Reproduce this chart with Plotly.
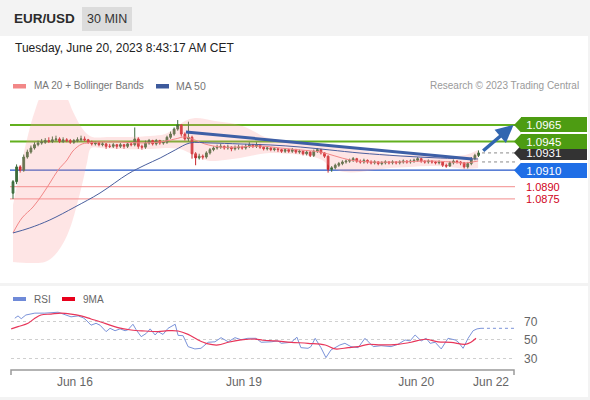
import plotly.graph_objects as go

# ---------------- data ----------------
candle_idx = list(range(131))
open_ = [1.0882, 1.0896, 1.0914, 1.0910, 1.0926, 1.0932, 1.0937, 1.0941, 1.0943, 1.0944,
         1.0946, 1.0945, 1.0947, 1.0948, 1.0945, 1.0947, 1.0946, 1.0944, 1.0946, 1.0947,
         1.0948, 1.0947, 1.0944, 1.0942, 1.0943, 1.0941, 1.0942, 1.0939, 1.0939, 1.0941,
         1.0939, 1.0941, 1.0939, 1.0942, 1.0941, 1.0948, 1.0939, 1.0938, 1.0943, 1.0946,
         1.0942, 1.0946, 1.0943, 1.0944, 1.0950, 1.0954, 1.0960, 1.0965, 1.0954, 1.0948,
         1.0950, 1.0930, 1.0925, 1.0927, 1.0926, 1.0931, 1.0935, 1.0937, 1.0938, 1.0939,
         1.0937, 1.0938, 1.0936, 1.0937, 1.0938, 1.0937, 1.0939, 1.0941, 1.0939, 1.0941,
         1.0938, 1.0936, 1.0937, 1.0935, 1.0936, 1.0935, 1.0933, 1.0935, 1.0933, 1.0935,
         1.0932, 1.0933, 1.0930, 1.0932, 1.0928, 1.0933, 1.0935, 1.0931, 1.0927, 1.0911,
         1.0913, 1.0916, 1.0918, 1.0920, 1.0921, 1.0922, 1.0924, 1.0921, 1.0920, 1.0922,
         1.0920, 1.0919, 1.0920, 1.0918, 1.0919, 1.0920, 1.0919, 1.0920, 1.0919, 1.0920,
         1.0921, 1.0920, 1.0921, 1.0922, 1.0924, 1.0921, 1.0920, 1.0921, 1.0920, 1.0919,
         1.0920, 1.0916, 1.0915, 1.0919, 1.0921, 1.0920, 1.0919, 1.0914, 1.0918, 1.0924,
         1.0928]
high = [1.0898, 1.0917, 1.0916, 1.0929, 1.0935, 1.0940, 1.0944, 1.0946, 1.0948, 1.0949,
        1.0950, 1.0951, 1.0952, 1.0950, 1.0950, 1.0949, 1.0948, 1.0948, 1.0950, 1.0952,
        1.0951, 1.0948, 1.0946, 1.0945, 1.0945, 1.0944, 1.0943, 1.0942, 1.0943, 1.0942,
        1.0943, 1.0942, 1.0944, 1.0944, 1.0962, 1.0950, 1.0941, 1.0946, 1.0948, 1.0947,
        1.0948, 1.0947, 1.0946, 1.0952, 1.0957, 1.0962, 1.0971, 1.0966, 1.0956, 1.0969,
        1.0952, 1.0932, 1.0930, 1.0929, 1.0933, 1.0937, 1.0939, 1.0941, 1.0942, 1.0940,
        1.0941, 1.0939, 1.0940, 1.0941, 1.0940, 1.0942, 1.0944, 1.0942, 1.0944, 1.0942,
        1.0939, 1.0939, 1.0938, 1.0938, 1.0937, 1.0936, 1.0937, 1.0936, 1.0937, 1.0936,
        1.0935, 1.0934, 1.0934, 1.0933, 1.0935, 1.0937, 1.0936, 1.0932, 1.0928, 1.0915,
        1.0918, 1.0920, 1.0922, 1.0923, 1.0924, 1.0926, 1.0925, 1.0923, 1.0924, 1.0923,
        1.0922, 1.0922, 1.0921, 1.0921, 1.0922, 1.0921, 1.0922, 1.0921, 1.0922, 1.0923,
        1.0922, 1.0923, 1.0924, 1.0926, 1.0925, 1.0922, 1.0923, 1.0922, 1.0921, 1.0922,
        1.0921, 1.0918, 1.0921, 1.0923, 1.0922, 1.0921, 1.0920, 1.0920, 1.0926, 1.0930,
        1.0934]
low = [1.0875, 1.0893, 1.0907, 1.0908, 1.0924, 1.0930, 1.0935, 1.0939, 1.0941, 1.0942,
       1.0943, 1.0943, 1.0945, 1.0943, 1.0943, 1.0944, 1.0942, 1.0942, 1.0944, 1.0945,
       1.0945, 1.0942, 1.0940, 1.0940, 1.0939, 1.0939, 1.0936, 1.0937, 1.0937, 1.0936,
       1.0937, 1.0936, 1.0937, 1.0939, 1.0939, 1.0936, 1.0935, 1.0936, 1.0941, 1.0940,
       1.0940, 1.0941, 1.0941, 1.0942, 1.0948, 1.0952, 1.0958, 1.0951, 1.0946, 1.0945,
       1.0924, 1.0916, 1.0923, 1.0923, 1.0924, 1.0929, 1.0933, 1.0935, 1.0936, 1.0935,
       1.0935, 1.0933, 1.0934, 1.0935, 1.0935, 1.0935, 1.0937, 1.0937, 1.0937, 1.0936,
       1.0934, 1.0934, 1.0933, 1.0933, 1.0932, 1.0931, 1.0931, 1.0931, 1.0931, 1.0930,
       1.0930, 1.0928, 1.0928, 1.0926, 1.0926, 1.0931, 1.0929, 1.0925, 1.0907, 1.0908,
       1.0911, 1.0914, 1.0916, 1.0918, 1.0919, 1.0920, 1.0919, 1.0918, 1.0918, 1.0918,
       1.0917, 1.0917, 1.0916, 1.0916, 1.0917, 1.0917, 1.0917, 1.0917, 1.0917, 1.0918,
       1.0918, 1.0918, 1.0919, 1.0920, 1.0919, 1.0918, 1.0918, 1.0918, 1.0917, 1.0917,
       1.0914, 1.0913, 1.0914, 1.0917, 1.0918, 1.0916, 1.0912, 1.0912, 1.0916, 1.0922,
       1.0926]
close = [1.0896, 1.0914, 1.0910, 1.0926, 1.0932, 1.0937, 1.0941, 1.0943, 1.0944, 1.0946,
         1.0945, 1.0947, 1.0948, 1.0945, 1.0947, 1.0946, 1.0944, 1.0946, 1.0947, 1.0948,
         1.0947, 1.0944, 1.0942, 1.0943, 1.0941, 1.0942, 1.0939, 1.0939, 1.0941, 1.0939,
         1.0941, 1.0939, 1.0942, 1.0941, 1.0948, 1.0939, 1.0938, 1.0943, 1.0946, 1.0942,
         1.0946, 1.0943, 1.0944, 1.0950, 1.0954, 1.0960, 1.0965, 1.0954, 1.0948, 1.0950,
         1.0930, 1.0925, 1.0927, 1.0926, 1.0931, 1.0935, 1.0937, 1.0938, 1.0939, 1.0937,
         1.0938, 1.0936, 1.0937, 1.0938, 1.0937, 1.0939, 1.0941, 1.0939, 1.0941, 1.0938,
         1.0936, 1.0937, 1.0935, 1.0936, 1.0935, 1.0933, 1.0935, 1.0933, 1.0935, 1.0932,
         1.0933, 1.0930, 1.0932, 1.0928, 1.0933, 1.0935, 1.0931, 1.0927, 1.0911, 1.0913,
         1.0916, 1.0918, 1.0920, 1.0921, 1.0922, 1.0924, 1.0921, 1.0920, 1.0922, 1.0920,
         1.0919, 1.0920, 1.0918, 1.0919, 1.0920, 1.0919, 1.0920, 1.0919, 1.0920, 1.0921,
         1.0920, 1.0921, 1.0922, 1.0924, 1.0921, 1.0920, 1.0921, 1.0920, 1.0919, 1.0920,
         1.0916, 1.0915, 1.0919, 1.0921, 1.0920, 1.0919, 1.0914, 1.0918, 1.0924, 1.0928,
         1.0931]

ma20_idx = [0, 2.5, 5.6, 8.1, 10.3, 12.6, 15.1, 16.5, 17.9, 19.3, 20.7, 24.3, 29.9, 35.5,
            41.1, 45.3, 48.0, 50.8, 53.6, 57.8, 63.4, 69.0, 74.6, 80.2, 85.8, 89.9, 94.1,
            99.7, 108.1, 116.5, 122.1, 126.3, 129.9]
ma20_val = [1.08336, 1.08518, 1.08652, 1.08798, 1.08944, 1.09102, 1.09224, 1.09321, 1.09382,
            1.09419, 1.09431, 1.09443, 1.09443, 1.09431, 1.09443, 1.09480, 1.09504, 1.09467,
            1.09419, 1.09382, 1.09382, 1.09394, 1.09370, 1.09346, 1.09321, 1.09273, 1.09224,
            1.09200, 1.09200, 1.09212, 1.09200, 1.09188, 1.09212]

bb_up_idx = [0, 2.0, 4.2, 6.2, 8.1, 11.7, 14.5, 16.8, 18.7, 20.4, 22.1, 27.1, 32.7, 38.3,
             42.5, 45.3, 48.0, 50.8, 53.6, 56.4, 60.6, 64.8, 67.6, 70.4, 74.6, 80.2, 84.4,
             88.5, 92.7, 96.9, 102.5, 108.1, 116.5, 122.1, 126.3, 129.9]
bb_up_val = [1.08676, 1.09102, 1.09528, 1.09833, 1.10016, 1.10077, 1.10016, 1.09808,
             1.09650, 1.09553, 1.09504, 1.09504, 1.09504, 1.09516, 1.09540, 1.09613,
             1.09699, 1.09735, 1.09723, 1.09699, 1.09674, 1.09626, 1.09565, 1.09504,
             1.09467, 1.09443, 1.09431, 1.09407, 1.09382, 1.09346, 1.09309, 1.09285,
             1.09285, 1.09273, 1.09285, 1.09346]
bb_lo_idx = [0, 4.7, 8.9, 11.7, 14.5, 16.5, 18.2, 19.6, 20.7, 21.8, 24.3, 29.9, 38.3, 42.5,
             46.6, 49.4, 52.2, 55.0, 59.2, 63.4, 67.6, 71.8, 77.4, 83.0, 86.3, 89.1, 92.7,
             96.9, 101.1, 105.3, 110.9, 116.5, 122.1, 126.3, 129.9]
bb_lo_val = [1.07983, 1.07971, 1.07983, 1.08068, 1.08250, 1.08470, 1.08737, 1.08981,
             1.09200, 1.09370, 1.09370, 1.09358, 1.09358, 1.09370, 1.09358, 1.09309,
             1.09248, 1.09212, 1.09224, 1.09248, 1.09285, 1.09309, 1.09297, 1.09273,
             1.09224, 1.09127, 1.09078, 1.09078, 1.09102, 1.09127, 1.09139, 1.09151,
             1.09139, 1.09115, 1.09127]

ma50_idx = [0, 4.7, 10.3, 17.3, 24.3, 32.1, 36.9, 41.1, 45.3, 49.4, 55.0, 63.4, 71.8, 80.2,
            88.5, 96.9, 108.1, 119.3, 129.9]
ma50_val = [1.08336, 1.08397, 1.08494, 1.08652, 1.08822, 1.09054, 1.09163, 1.09248, 1.09346,
            1.09431, 1.09431, 1.09419, 1.09407, 1.09382, 1.09346, 1.09309, 1.09273, 1.09248,
            1.09236]

trend_idx = [48.3, 128.2]
trend_val = [1.09565, 1.09236]
arrow_idx = [130.9, 139.8]
arrow_val = [1.09321, 1.09650]

resistance_levels = [1.0965, 1.0945]
pivot_level = 1.0910
support_levels = [1.0890, 1.0875]
last_price = 1.0931
last_open = 1.0920

rsi_idx = [0.5, 1.4, 2.3, 3.6, 6.1, 8.9, 12.6, 14.8, 16.2, 18.2, 19.6, 20.4, 21.8, 23.2,
           24.3, 26.0, 27.1, 28.5, 29.9, 31.3, 32.1, 33.5, 34.4, 35.8, 37.2, 38.3, 39.7,
           40.5, 41.9, 43.3, 45.3, 46.1, 47.5, 48.9, 50.8, 52.5, 54.5, 56.4, 58.1, 60.1,
           62.0, 63.7, 65.6, 67.9, 69.3, 72.1, 74.0, 74.9, 77.7, 79.3, 80.4, 82.4, 83.2,
           84.4, 86.0, 87.4, 88.8, 91.3, 92.7, 94.4, 96.4, 98.3, 100.6, 102.8, 105.6, 107.5,
           109.5, 110.9, 112.3, 114.0, 115.4, 116.5, 117.9, 119.6, 121.5, 123.5, 124.3,
           125.7, 127.1, 128.5, 129.6, 130.7]
rsi_val = [73.5, 76, 73, 77, 79, 79, 80, 77, 75, 76, 74, 71.6, 66, 68, 66, 59, 62.6, 60, 62,
           60, 61, 67, 61, 53.6, 57, 62, 55.4, 59, 56, 62.6, 67, 55, 54.6, 42.8, 40.3, 41,
           47.5, 48, 52.5, 48, 52.5, 50.3, 51.8, 51.8, 47.5, 48, 49, 46.4, 47.5, 53, 41.7,
           41, 42.8, 51.8, 41.7, 30.9, 39.2, 44.6, 46.4, 42.8, 41.7, 51.8, 42.8, 43.8, 42.8,
           45.3, 50, 49, 55.4, 49, 51.8, 46.4, 47.5, 40.3, 51.8, 50, 48, 41, 51.8, 60, 62,
           62.6]
rsi_ma_idx = [-0.5, 1.4, 4.2, 6.1, 7.8, 10.6, 13.4, 16.2, 19.0, 21.8, 25.7, 29.3, 33.0,
              36.9, 40.5, 43.3, 46.1, 48.9, 51.7, 54.5, 57.3, 60.1, 63.7, 67.6, 69.8, 73.2,
              77.7, 82.4, 87.2, 90.0, 93.6, 96.4, 99.2, 102.8, 107.5, 111.2, 115.1, 118.7,
              122.3, 126.3, 127.9, 129.3]
rsi_ma_val = [62, 64.4, 68, 73.5, 77, 78, 79, 78, 76, 72.7, 68, 63.3, 60.8, 59.7, 59, 60,
              59.7, 56, 50, 45.7, 44.6, 47.5, 50, 51, 49.7, 49, 47.5, 46.4, 44.6, 40.3, 41.7,
              42.8, 45.3, 44.6, 45.3, 47.5, 50.8, 48, 47.5, 45.3, 47.5, 51.8]
rsi_levels = [30, 50, 70]

tick_idx = [17.3, 64.5, 112.6, 133.5]
tick_text = ["Jun 16", "Jun 19", "Jun 20", "Jun 22"]

# ---------------- layout helpers ----------------
W, H = 590, 400
def px(x):
    return x / W
def py(y):
    return 1 - y / H

FONT = "Liberation Sans, Arial, sans-serif"
X_RANGE = [-0.56, 140.2]

fig = go.Figure()

# Bollinger band
fig.add_trace(go.Scatter(x=bb_up_idx, y=bb_up_val, mode="lines", line=dict(width=0, color="rgba(0,0,0,0)"),
                         line_shape="spline", hoverinfo="skip", showlegend=False, xaxis="x", yaxis="y"))
fig.add_trace(go.Scatter(x=bb_lo_idx, y=bb_lo_val, mode="lines", line=dict(width=0, color="rgba(0,0,0,0)"),
                         line_shape="spline", fill="tonexty", fillcolor="rgba(252,150,150,0.25)",
                         hoverinfo="skip", showlegend=False, xaxis="x", yaxis="y"))
# MA20 / MA50
fig.add_trace(go.Scatter(x=ma20_idx, y=ma20_val, mode="lines", line=dict(width=1, color="#f28787"),
                         line_shape="spline", showlegend=False, xaxis="x", yaxis="y"))
fig.add_trace(go.Scatter(x=ma50_idx, y=ma50_val, mode="lines", line=dict(width=1, color="#4a5f9e"),
                         line_shape="spline", showlegend=False, xaxis="x", yaxis="y"))

# Candles
fig.add_trace(go.Candlestick(x=candle_idx, open=open_, high=high, low=low, close=close,
                             increasing=dict(line=dict(color="#3b6b3b", width=1), fillcolor="#3b6b3b"),
                             decreasing=dict(line=dict(color="#c8262c", width=1), fillcolor="#c8262c"),
                             whiskerwidth=0, showlegend=False, xaxis="x", yaxis="y"))

# Trend line
fig.add_trace(go.Scatter(x=trend_idx, y=trend_val, mode="lines", line=dict(width=3, color="#3d5fa6"),
                         showlegend=False, xaxis="x", yaxis="y"))
# Dotted current price lines
for lv in [last_price, last_open]:
    fig.add_trace(go.Scatter(x=[131, X_RANGE[1]], y=[lv, lv], mode="lines",
                             line=dict(width=1, color="#8a8a8a", dash="dot"),
                             showlegend=False, xaxis="x", yaxis="y"))

# RSI
fig.add_trace(go.Scatter(x=rsi_idx, y=rsi_val, mode="lines", line=dict(width=1, color="#7b93d9"),
                         showlegend=False, xaxis="x2", yaxis="y2"))
fig.add_trace(go.Scatter(x=rsi_ma_idx, y=rsi_ma_val, mode="lines", line=dict(width=1.2, color="#e8365a"),
                         line_shape="spline", showlegend=False, xaxis="x2", yaxis="y2"))
fig.add_trace(go.Scatter(x=[rsi_idx[-1], X_RANGE[1]], y=[rsi_val[-1], rsi_val[-1]], mode="lines",
                         line=dict(width=1, color="#7b93d9", dash="dot"),
                         showlegend=False, xaxis="x2", yaxis="y2"))

shapes = []
# panels (white cards on grey page)
shapes.append(dict(type="rect", xref="paper", yref="paper", x0=px(0), x1=px(588), y0=py(283), y1=py(36),
                   fillcolor="white", line=dict(width=0), layer="below"))
shapes.append(dict(type="rect", xref="paper", yref="paper", x0=px(0), x1=px(588), y0=py(397), y1=py(286),
                   fillcolor="white", line=dict(width=0), layer="below"))
# badge
shapes.append(dict(type="rect", xref="paper", yref="paper", x0=px(82), x1=px(132), y0=py(31), y1=py(7),
                   fillcolor="#dcdcdc", line=dict(width=0), layer="below"))
# level lines
for lv in resistance_levels:
    shapes.append(dict(type="line", xref="paper", yref="y", x0=px(10), x1=px(515), y0=lv, y1=lv,
                       line=dict(color="#62b01e", width=2), layer="below"))
shapes.append(dict(type="line", xref="paper", yref="y", x0=px(10), x1=px(515), y0=pivot_level, y1=pivot_level,
                   line=dict(color="#2456c8", width=1.2), layer="below"))
for lv in support_levels:
    shapes.append(dict(type="line", xref="paper", yref="y", x0=px(10), x1=px(515), y0=lv, y1=lv,
                       line=dict(color="#f5a3a3", width=1.2), layer="below"))
# label notches
label_specs = [(resistance_levels[0], "#4d9c12"), (last_price, "#333333"),
               (resistance_levels[1], "#4d9c12"), (pivot_level, "#1f6ee6")]
for lv, col in label_specs:
    shapes.append(dict(type="path", xref="paper", yref="y", xsizemode="pixel", ysizemode="pixel",
                       xanchor=px(514), yanchor=lv, path="M 0,0 L 7,7.5 L 7,-7.5 Z",
                       fillcolor=col, line=dict(width=0)))
# legend swatches
shapes.append(dict(type="rect", xref="paper", yref="paper", x0=px(13), x1=px(26), y0=py(88.5), y1=py(84),
                   fillcolor="#f28787", line=dict(width=0)))
shapes.append(dict(type="rect", xref="paper", yref="paper", x0=px(156), x1=px(169), y0=py(88.5), y1=py(84),
                   fillcolor="#3d5a9c", line=dict(width=0)))
shapes.append(dict(type="rect", xref="paper", yref="paper", x0=px(13), x1=px(26), y0=py(301), y1=py(297),
                   fillcolor="#6f8ad8", line=dict(width=0)))
shapes.append(dict(type="rect", xref="paper", yref="paper", x0=px(62), x1=px(75), y0=py(301), y1=py(297),
                   fillcolor="#e8001c", line=dict(width=0)))
# bottom bracket of time axis
shapes.append(dict(type="path", xref="paper", yref="paper",
                   path=f"M {px(11)},{py(375)} L {px(11)},{py(370)} L {px(514)},{py(370)} L {px(514)},{py(375)}",
                   line=dict(color="#9a9a9a", width=1.5)))

annotations = []
annotations.append(dict(text="<b>EUR/USD</b>", x=px(12), y=py(19), xref="paper", yref="paper",
                        xanchor="left", yanchor="middle", showarrow=False,
                        font=dict(size=13.5, color="#2b2b2b", family=FONT)))
annotations.append(dict(text="30 MIN", x=px(107), y=py(19), xref="paper", yref="paper",
                        xanchor="center", yanchor="middle", showarrow=False,
                        font=dict(size=12.5, color="#333333", family=FONT)))
annotations.append(dict(text="Tuesday, June 20, 2023 8:43:17 AM CET", x=px(13), y=py(48), xref="paper",
                        yref="paper", xanchor="left", yanchor="middle", showarrow=False,
                        font=dict(size=12, color="#222222", family=FONT)))
annotations.append(dict(text="MA 20 + Bollinger Bands", x=px(32), y=py(86), xref="paper", yref="paper",
                        xanchor="left", yanchor="middle", showarrow=False,
                        font=dict(size=10, color="#777777", family=FONT)))
annotations.append(dict(text="MA 50", x=px(174), y=py(86), xref="paper", yref="paper",
                        xanchor="left", yanchor="middle", showarrow=False,
                        font=dict(size=10.5, color="#777777", family=FONT)))
annotations.append(dict(text="Research © 2023 Trading Central", x=px(581), y=py(86), xref="paper",
                        yref="paper", xanchor="right", yanchor="middle", showarrow=False,
                        font=dict(size=10, color="#9a9a9a", family=FONT)))
annotations.append(dict(text="RSI", x=px(32), y=py(299), xref="paper", yref="paper",
                        xanchor="left", yanchor="middle", showarrow=False,
                        font=dict(size=10, color="#666666", family=FONT)))
annotations.append(dict(text="9MA", x=px(81), y=py(299), xref="paper", yref="paper",
                        xanchor="left", yanchor="middle", showarrow=False,
                        font=dict(size=10, color="#666666", family=FONT)))
# price label boxes
for lv, col in label_specs:
    annotations.append(dict(text="&nbsp;" + f"{lv:.4f}", x=px(521), y=lv, xref="paper", yref="y",
                            xanchor="left", yanchor="middle", showarrow=False, align="left",
                            width=62, height=11, borderpad=2, borderwidth=0, bgcolor=col,
                            font=dict(size=11.5, color="white", family=FONT)))
for lv in support_levels:
    annotations.append(dict(text=f"{lv:.4f}", x=px(524), y=lv, xref="paper", yref="y",
                            xanchor="left", yanchor="middle", showarrow=False,
                            font=dict(size=11, color="#d0021b", family=FONT)))
# projection arrow
annotations.append(dict(x=arrow_idx[1], y=arrow_val[1], ax=arrow_idx[0], ay=arrow_val[0],
                        xref="x", yref="y", axref="x", ayref="y", text="", showarrow=True,
                        arrowhead=2, arrowsize=1, arrowwidth=3.5, arrowcolor="#3266b0"))

fig.update_layout(
    width=W, height=H,
    margin=dict(l=0, r=0, t=0, b=0),
    paper_bgcolor="#f3f3f3",
    plot_bgcolor="rgba(0,0,0,0)",
    showlegend=False,
    font=dict(family=FONT),
    shapes=shapes,
    annotations=annotations,
    xaxis=dict(domain=[px(11), px(515)], range=X_RANGE, anchor="y", visible=False,
               rangeslider=dict(visible=False), matches="x2"),
    yaxis=dict(domain=[py(282), py(100)], range=[1.07739, 1.09954], anchor="x", visible=False),
    xaxis2=dict(domain=[px(11), px(515)], range=X_RANGE, anchor="y2", tickvals=tick_idx,
                ticktext=tick_text, showgrid=False, zeroline=False, showline=False, ticks="",
                ticklabelstandoff=5,
                tickfont=dict(size=12, color="#666666", family=FONT)),
    yaxis2=dict(domain=[py(368), py(305)], range=[19.7, 87.8], anchor="x2", side="right",
                tickvals=rsi_levels, showgrid=True, gridcolor="#cfcfcf", griddash="dot",
                gridwidth=1, zeroline=False, showline=False, ticks="", ticklabelstandoff=8,
                tickfont=dict(size=12, color="#666666", family=FONT)),
)

fig.write_html("out.html", config={"displayModeBar": False, "responsive": False},
               post_script="document.body.style.margin='0';document.body.style.overflow='hidden';")
